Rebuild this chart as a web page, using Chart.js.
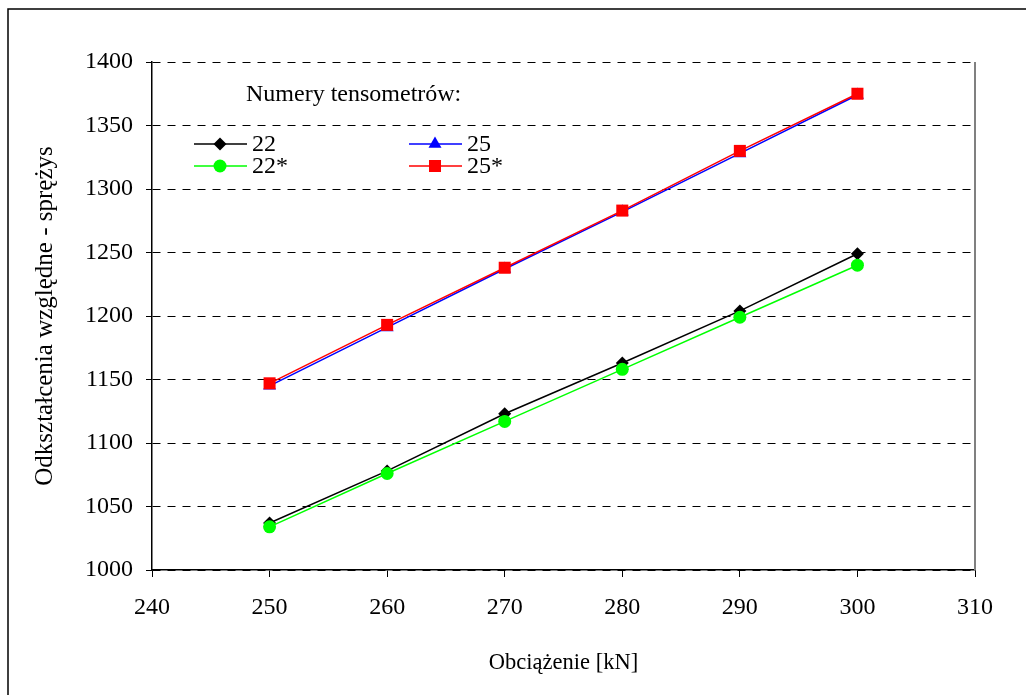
<!DOCTYPE html>
<html>
<head>
<meta charset="utf-8">
<script src="https://cdn.jsdelivr.net/npm/chart.js@4/dist/chart.umd.min.js"></script>
<style>
  html, body { margin: 0; padding: 0; background: #fff; }
  canvas { display: block; }
</style>
</head>
<body>
<canvas id="chart" width="1026" height="695"></canvas>
<script>
// Obciążenie [kN]
const loads = [250, 260, 270, 280, 290, 300];
// Odkształcenia dla tensometrów
const t22  = [1037, 1078, 1123, 1163, 1204, 1249];
const t22s = [1034, 1076, 1117, 1158, 1199, 1240];
const t25  = [1145, 1191, 1237, 1282, 1328, 1374];
const t25s = [1147, 1193, 1238, 1283, 1330, 1375];

const xTicks = [240, 250, 260, 270, 280, 290, 300, 310];
const yTicks = [1000, 1050, 1100, 1150, 1200, 1250, 1300, 1350, 1400];

const FONT = "'Liberation Serif', 'Times New Roman', serif";

function pts(ys) {
    return loads.map((x, i) => ({ x: x, y: ys[i] }));
}

function series(label, ys, color, style, radius, order) {
    return {
        label: label,
        data: pts(ys),
        borderColor: color,
        backgroundColor: color,
        borderWidth: 1.5,
        pointStyle: style,
        pointRadius: radius,
        pointBorderWidth: 0,
        pointHoverRadius: radius,
        order: order
    };
}

// white page with the outer frame, plus the grey right edge of the plot
const framePlugin = {
    id: "frame",
    beforeDraw(c) {
        const ctx = c.ctx;
        ctx.save();
        ctx.fillStyle = "#fff";
        ctx.fillRect(0, 0, c.width, c.height);
        ctx.strokeStyle = "#000";
        ctx.lineWidth = 1.5;
        ctx.strokeRect(8, 9, c.width + 20, c.height + 20);
        ctx.restore();
    },
    afterDraw(c) {
        const a = c.chartArea, ctx = c.ctx;
        ctx.save();
        ctx.strokeStyle = "#808080";
        ctx.lineWidth = 2;
        ctx.beginPath();
        ctx.moveTo(a.right, a.top);
        ctx.lineTo(a.right, a.bottom);
        ctx.stroke();
        ctx.restore();
    }
};

// two-column legend inside the plot
const legendPlugin = {
    id: "boxLegend",
    afterDatasetsDraw(c) {
        const ctx = c.ctx;
        ctx.save();
        ctx.fillStyle = "#000";
        ctx.font = "24px " + FONT;
        ctx.textBaseline = "middle";
        ctx.textAlign = "left";
        ctx.fillText("Numery tensometrów:", 246, 95);

        const slots = [
            { x: 194, y: 144 }, { x: 194, y: 166 },
            { x: 409, y: 144 }, { x: 409, y: 166 }
        ];
        c.data.datasets.forEach((ds, i) => {
            const s = slots[i];
            ctx.strokeStyle = ds.borderColor;
            ctx.lineWidth = ds.borderWidth;
            ctx.beginPath();
            ctx.moveTo(s.x, s.y);
            ctx.lineTo(s.x + 53, s.y);
            ctx.stroke();
            ctx.fillStyle = ds.backgroundColor;
            Chart.helpers.drawPoint(ctx, {
                pointStyle: ds.pointStyle,
                radius: ds.pointRadius,
                borderWidth: 0,
                rotation: 0
            }, s.x + 26, s.y);
            ctx.fillStyle = "#000";
            ctx.fillText(ds.label, s.x + 58, s.y + 1);
        });
        ctx.restore();
    }
};

new Chart(document.getElementById("chart"), {
    type: "line",
    data: {
        datasets: [
            series("22", t22, "#000000", "rectRot", 6.5, 3),
            series("22*", t22s, "#00ff00", "circle", 6.5, 2),
            series("25", t25, "#0000ff", "triangle", 7.5, 1),
            series("25*", t25s, "#ff0000", "rect", 8.5, 0)
        ]
    },
    options: {
        responsive: false,
        animation: false,
        layout: { padding: { left: 0, right: 51, top: 62, bottom: 0 } },
        plugins: {
            legend: { display: false },
            tooltip: { enabled: false }
        },
        scales: {
            x: {
                type: "linear",
                min: 240,
                max: 310,
                afterBuildTicks: s => { s.ticks = xTicks.map(v => ({ value: v })); },
                afterFit: s => { s.height = 125; },
                grid: {
                    drawOnChartArea: false,
                    drawTicks: true,
                    tickLength: 7,
                    tickColor: "#000"
                },
                border: { color: "#000", width: 1.5 },
                ticks: {
                    color: "#000",
                    padding: 16,
                    maxRotation: 0,
                    callback: v => String(v),
                    font: { family: FONT, size: 24 }
                },
                title: {
                    display: true,
                    text: "Obciążenie [kN]",
                    color: "#000",
                    font: { family: FONT, size: 22.5 },
                    padding: { top: 0, bottom: 18 }
                }
            },
            y: {
                type: "linear",
                min: 1000,
                max: 1400,
                afterBuildTicks: s => { s.ticks = yTicks.map(v => ({ value: v })); },
                afterFit: s => { s.width = 152; },
                grid: {
                    color: "#000",
                    lineWidth: 1,
                    drawTicks: true,
                    tickLength: 6,
                    tickColor: "#000",
                    tickBorderDash: []
                },
                border: { color: "#000", width: 1.5, dash: [8, 7] },
                ticks: {
                    color: "#000",
                    padding: 13,
                    callback: v => String(v),
                    font: { family: FONT, size: 24 }
                },
                title: {
                    display: true,
                    text: "Odkształcenia względne - sprężys",
                    color: "#000",
                    font: { family: FONT, size: 25 },
                    padding: { top: 30, bottom: 0 }
                }
            }
        }
    },
    plugins: [framePlugin, legendPlugin]
});
</script>
</body>
</html>
